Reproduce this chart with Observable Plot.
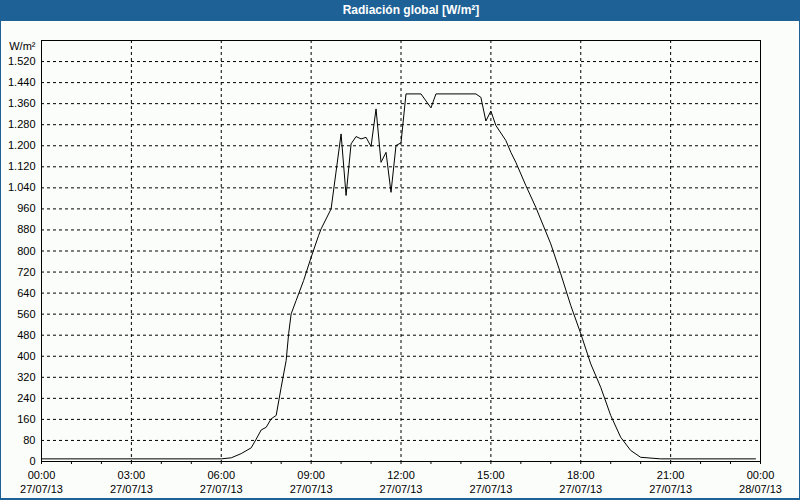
<!DOCTYPE html>
<html>
<head>
<meta charset="utf-8">
<script src="https://cdn.jsdelivr.net/npm/d3@7"></script>
<script src="https://cdn.jsdelivr.net/npm/@observablehq/plot@0.6"></script>
<style>
  html, body { margin: 0; padding: 0; background: #ffffff; }
  #page { position: relative; width: 800px; height: 500px; background: #fbfdfb; overflow: hidden; }
  #title { position: absolute; left: 0; top: 0; width: 800px; height: 21px; background: #1d6196;
           color: #ffffff; font: bold 12px "Liberation Sans", sans-serif; line-height: 21px; }
  #title span { position: absolute; left: 411px; transform: translateX(-50%); white-space: nowrap; top: 0; }
  #chart { position: absolute; left: 0; top: 21px; }
  #border { position: absolute; left: 0; top: 0; width: 800px; height: 500px; box-sizing: border-box;
            border-left: 1px solid #1d6196; border-right: 1px solid #1d6196; border-bottom: 2px solid #1d6196;
            pointer-events: none; }
</style>
</head>
<body>
<div id="page">
  <div id="title"><span>Radiación global [W/m²]</span></div>
  <div id="chart"></div>
  <div id="border"></div>
</div>
<script>
// ---- data ----
const times = ["00:00","06:00","06:20","06:40","07:00","07:10","07:20","07:30","07:40","07:50",
  "08:00","08:10","08:15","08:20","08:30","08:45","09:00","09:15","09:20","09:40",
  "10:00","10:10","10:20","10:30","10:40","10:50","11:00","11:10","11:20","11:30",
  "11:40","11:50","12:00","12:10","12:40","13:00","13:10","14:30","14:40","14:50",
  "15:00","15:10","15:30","15:40","15:50","16:10","16:30","17:00","17:20","17:40",
  "18:00","18:20","18:40","19:00","19:20","19:40","20:00","20:40","23:50"];
const values = [10,10,14,30,52,85,120,130,162,175,
  282,384,486,561,612,688,776,859,884,960,
  1245,1011,1207,1235,1226,1232,1197,1340,1137,1175,
  1023,1201,1211,1397,1397,1344,1397,1397,1384,1294,
  1332,1277,1220,1175,1137,1049,966,827,713,593,
  486,371,282,175,92,42,16,10,10];

const yTicks = [80,160,240,320,400,480,560,640,720,800,880,960,1040,1120,1200,1280,1360,1440,1520];
const yLabelTicks = [0].concat(yTicks);
const xTickTimes = ["00:00","03:00","06:00","09:00","12:00","15:00","18:00","21:00","00:00"];
const xTickDates = ["27/07/13","27/07/13","27/07/13","27/07/13","27/07/13","27/07/13","27/07/13","27/07/13","28/07/13"];
const yUnit = "W/m²";

// ---- build ----
const day = (h, m) => new Date(Date.UTC(2013, 6, 27, h, m));
const data = times.map((t, i) => {
  const [h, m] = t.split(":").map(Number);
  return {date: day(h, m), value: values[i]};
});
const xLabels = xTickTimes.map((t, i) => ({date: day(i * 3, 0), label: t + "\n" + xTickDates[i]}));
const hourTicks = d3.range(0, 25).map(h => day(h, 0));
const gridXTicks = d3.range(1, 8).map(i => day(i * 3, 0));
const fmt = d3.formatLocale({decimal: ",", thousands: ".", grouping: [3]}).format(",d");

const chart = Plot.plot({
  width: 800,
  height: 477,
  marginLeft: 41,
  marginRight: 40,
  marginTop: 19,
  marginBottom: 37,
  style: {fontFamily: "'Liberation Sans', sans-serif", fontSize: "11px", background: "transparent", color: "#000"},
  x: {type: "utc", domain: [day(0, 0), day(24, 0)]},
  y: {domain: [0, 1600]},
  marks: [
    Plot.gridY(yTicks, {stroke: "#000", strokeOpacity: 1, strokeDasharray: "3,3"}),
    Plot.gridX(gridXTicks, {stroke: "#000", strokeOpacity: 1, strokeDasharray: "3,3"}),
    Plot.axisY(yLabelTicks, {tickSize: 0, tickPadding: 6, tickFormat: fmt, label: null, fill: "#000"}),
    Plot.axisX(hourTicks, {tickSize: 3, tickFormat: () => "", label: null, stroke: "#000"}),
    Plot.text(xLabels, {x: "date", text: "label", frameAnchor: "bottom", dy: 7, lineAnchor: "top", lineHeight: 1.3, fill: "#000"}),
    Plot.text([yUnit], {frameAnchor: "top-left", dx: -6, dy: 6, textAnchor: "end", lineAnchor: "middle", fill: "#000"}),
    Plot.line(data, {x: "date", y: "value", stroke: "#000", strokeWidth: 1}),
    Plot.frame({stroke: "#000"})
  ]
});
document.getElementById("chart").appendChild(chart);
</script>
</body>
</html>
